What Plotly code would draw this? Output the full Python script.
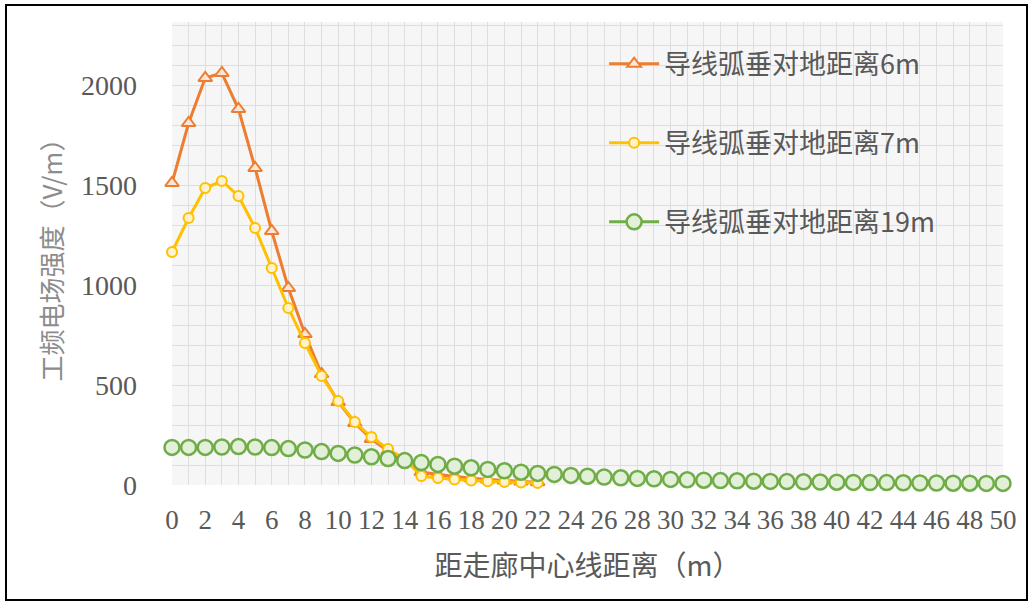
import plotly.graph_objects as go

# ---- data ----
distance = list(range(0, 51))
sag_6m = [1510, 1810, 2035, 2060, 1880, 1585, 1270, 985, 755, 555,
          415, 310, 230, 170, 120, 65, 52, 42, 34, 28, 22, 18, 14]
sag_7m = [1165, 1335, 1485, 1520, 1445, 1285, 1085, 885, 710, 545,
          420, 315, 240, 180, 130, 45, 35, 28, 23, 19, 15, 12, 10]
sag_19m = [188, 188, 188, 190, 192, 190, 187, 182, 175, 167,
           158, 150, 141, 132, 122, 112, 103, 94, 86, 78,
           71, 64, 58, 53, 48, 44, 40, 36, 33, 31,
           28, 26, 24, 22, 21, 19, 18, 17, 16, 15,
           14, 13, 12, 12, 11, 10, 10, 9, 9, 8, 8]
names = ["导线弧垂对地距离6m", "导线弧垂对地距离7m", "导线弧垂对地距离19m"]
x_ticks = list(range(0, 51, 2))
y_ticks = [0, 500, 1000, 1500, 2000]

x_title = "距走廊中心线距离（m）"
y_title = "工频电场强度（V/m）"

serif = "Liberation Serif, Times New Roman, serif"
cjk = "Noto Sans CJK SC, serif"
gray = "#595959"

fig = go.Figure()
fig.add_trace(go.Scatter(
    x=distance[:len(sag_6m)], y=sag_6m, name=names[0], mode="lines+markers",
    line=dict(color="#ED7D31", width=3),
    marker=dict(symbol="triangle-up", size=12, color="#fbe5d6",
                line=dict(color="#ED7D31", width=2)),
    cliponaxis=False, legendgroup="a"))
fig.add_trace(go.Scatter(
    x=distance[:len(sag_7m)], y=sag_7m, name=names[1], mode="lines+markers",
    line=dict(color="#FFC000", width=3),
    marker=dict(symbol="circle", size=10, color="#fff2cc",
                line=dict(color="#FFC000", width=2)),
    cliponaxis=False, legendgroup="b"))
fig.add_trace(go.Scatter(
    x=distance, y=sag_19m, name=names[2], mode="lines+markers",
    line=dict(color="#70AD47", width=3),
    marker=dict(symbol="circle", size=15, color="#e2f0d9",
                line=dict(color="#70AD47", width=2.5)),
    cliponaxis=False, legendgroup="c"))

fig.update_layout(
    width=1032, height=605,
    margin=dict(l=172, r=29, t=22, b=120),
    paper_bgcolor="white",
    plot_bgcolor="#f6f6f6",
    font=dict(family=serif, color=gray),
    showlegend=True,
    legend=dict(x=0.52, y=0.962, xanchor="left", yanchor="top",
                bgcolor="rgba(0,0,0,0)", font=dict(family=cjk, size=27, color=gray),
                tracegroupgap=41, itemwidth=50),
    xaxis=dict(range=[0, 50], tickmode="array", tickvals=x_ticks,
               ticktext=[str(v) for v in x_ticks],
               tickfont=dict(family=serif, size=27, color=gray),
               showgrid=True, gridcolor="#dedede", gridwidth=1,
               minor=dict(dtick=1, showgrid=True, gridcolor="#dedede", gridwidth=1),
               zeroline=False, showline=False, ticks="",
               ticklabelstandoff=16,
               title=dict(text=x_title, font=dict(family=cjk, size=28, color=gray),
                          standoff=22)),
    yaxis=dict(range=[0, 2315], tickmode="array", tickvals=y_ticks,
               tickfont=dict(family=serif, size=28, color=gray),
               showgrid=True, gridcolor="#dedede", gridwidth=1,
               minor=dict(dtick=100, showgrid=True, gridcolor="#dedede", gridwidth=1),
               zeroline=False, showline=False, ticks="",
               ticklabelstandoff=34,
               title=dict(text=y_title, font=dict(family=cjk, size=26, color="#8c8c8c"),
                          standoff=10)),
)

# outer frame
fig.add_shape(type="rect", xref="paper", yref="paper",
              x0=(6 - 172) / 831, x1=(1027 - 172) / 831,
              y0=(485 - 600) / 463, y1=(485 - 5) / 463,
              line=dict(color="black", width=2), fillcolor="rgba(0,0,0,0)",
              layer="below")

fig.write_html("out.html", config={"displayModeBar": False},
               post_script="document.body.style.margin='0px';")
